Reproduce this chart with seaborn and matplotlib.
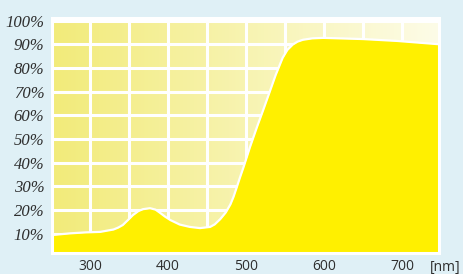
import numpy as np
import matplotlib
matplotlib.use("Agg")
import matplotlib.pyplot as plt
from matplotlib.ticker import MultipleLocator
import seaborn as sns

# transmission curve
wavelength = [252, 275, 295, 313, 330, 336, 342, 348, 355, 362, 368, 377, 384,
              390, 396, 403, 415, 428, 441, 454, 460, 467, 474, 480, 484, 488,
              492, 497, 505, 514, 522, 531, 538, 547, 553, 560, 566, 573, 585,
              599, 650, 694, 748]
transmission = [9.5, 10.2, 10.6, 10.8, 11.8, 12.6, 13.7, 15.6, 17.9, 19.6, 20.4,
                20.8, 20.2, 18.8, 17.3, 15.8, 13.9, 12.9, 12.4, 12.9, 14.0, 16.2,
                19.0, 22.4, 25.6, 29.5, 33.5, 38.3, 46.5, 55.0, 62.2, 70.5, 77.0,
                84.3, 87.6, 89.9, 91.1, 91.9, 92.5, 92.7, 92.2, 91.4, 90.0]

x_ticks = [300, 400, 500, 600, 700]
y_ticks = [10, 20, 30, 40, 50, 60, 70, 80, 90, 100]
y_labels = [f"{v}%" for v in y_ticks]

BG = "#dff0f6"
FILL = "#fff000"
TXT = "#2e2e2e"

sns.set_style("white")
fig = plt.figure(figsize=(4.64, 2.74), dpi=100, facecolor=BG)
ax = fig.add_axes([52.5 / 464, 21.5 / 274, 387 / 464, 235 / 274])

xlim = (251.9, 748.1)
ylim = (2.1, 101.3)

# horizontal yellow gradient behind the grid
left = np.array([242, 235, 122]) / 255
right = np.array([253, 252, 232]) / 255
t = np.linspace(0, 1, 256)[None, :, None]
grad = left + (right - left) * t
ax.imshow(grad, extent=[xlim[0], xlim[1], ylim[0], ylim[1]], aspect="auto",
          zorder=0.1, interpolation="bilinear")

ax.fill_between(wavelength, transmission, 0, color=FILL, lw=0, zorder=1)
sns.lineplot(x=wavelength, y=transmission, ax=ax, color="white", lw=1.6,
             zorder=2)

ax.set_xlim(*xlim)
ax.set_ylim(*ylim)

ax.set_xticks(x_ticks, labels=[str(v) for v in x_ticks],
              fontfamily="Open Sans", fontsize=10, color=TXT)
ax.xaxis.set_minor_locator(MultipleLocator(50))
ax.set_yticks(y_ticks, labels=y_labels, fontfamily="Liberation Serif",
              fontstyle="italic", fontsize=12, color=TXT)

ax.set_axisbelow(True)
ax.grid(True, which="both", axis="x", color="white", lw=2.2)
ax.grid(True, which="major", axis="y", color="white", lw=2.2)

ax.tick_params(axis="both", which="both", length=0)
ax.tick_params(axis="x", pad=5)
ax.tick_params(axis="y", pad=6)

for s in ax.spines.values():
    s.set_visible(True)
    s.set_color("white")
    s.set_linewidth(2.2)

ax.set_xlabel("")
ax.set_ylabel("")

fig.text(445 / 464, 1 - 267 / 274, "[nm]", ha="center", va="center",
         fontsize=10, family="Open Sans", color=TXT)

fig.savefig("out.png", dpi=100, facecolor=BG)
